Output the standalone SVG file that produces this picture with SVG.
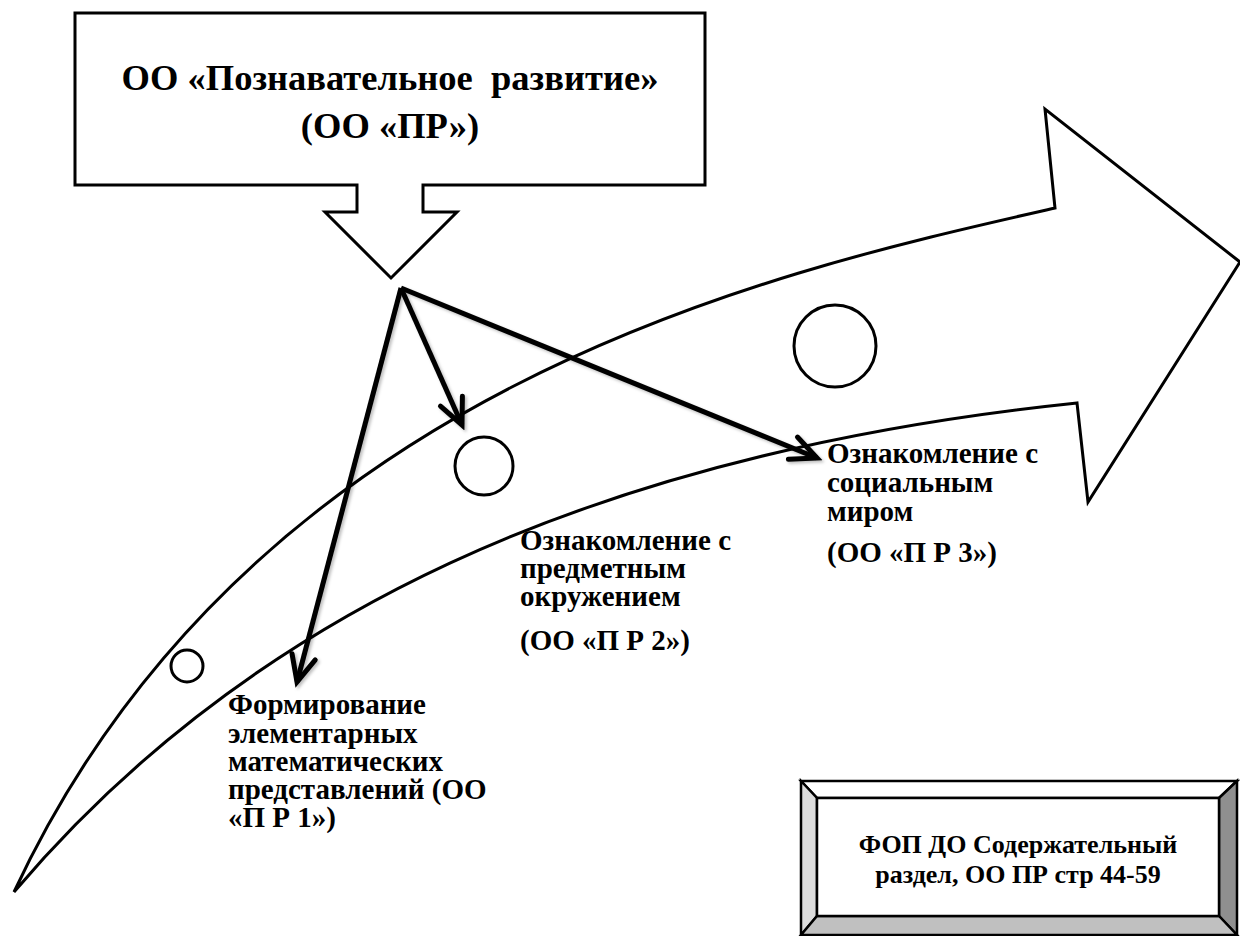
<svg xmlns="http://www.w3.org/2000/svg" width="1240" height="936" viewBox="0 0 1240 936">
<style>
  .outline { fill: #ffffff; stroke: #000000; stroke-width: 3; stroke-linejoin: miter; }
  .curve { fill: #ffffff; stroke: #000000; stroke-width: 3; stroke-linejoin: miter; }
  .ring { fill: none; stroke: #000000; stroke-width: 3; }
  .conn { fill: none; stroke: #000000; stroke-width: 5; stroke-linecap: butt; }
  text { font-family: 'Liberation Serif', 'Times New Roman', serif; font-weight: 700; fill: #000000; }
  .lbl { font-size: 29px; }
  .head { font-size: 36.5px; }
  .note { font-size: 26px; }
  .bev { stroke: #000000; stroke-width: 2.5; stroke-linejoin: miter; }
</style>
<defs>
  <marker id="ah" markerUnits="userSpaceOnUse" markerWidth="40" markerHeight="40" viewBox="-34 -20 40 40" refX="0" refY="0" orient="auto">
    <path d="M-26,-12 L0,0 L-26,12" fill="none" stroke="#000000" stroke-width="5" stroke-linejoin="miter" stroke-linecap="round"/>
  </marker>
  <filter id="sh" x="-10%" y="-10%" width="120%" height="120%">
    <feDropShadow dx="2" dy="2" stdDeviation="1.5" flood-color="#000000" flood-opacity="0.25"/>
  </filter>
</defs>

<g id="curved-arrow">
  <path class="curve" d="M14,892 C250,386 773,272 1055,208 L1045,109 L1240,262 L1088,502 L1077,403 C588,454 248,616 14,892 Z"/>
  <circle class="ring" cx="187" cy="666" r="16"/>
  <circle class="ring" cx="484" cy="466" r="29"/>
  <circle class="ring" cx="835" cy="346" r="41"/>
</g>

<g id="callout">
  <path class="outline" d="M75,13 H705 V185 H423 V212 H457 L391,278 L325,212 H357 V185 H75 Z"/>
  <text class="head" text-anchor="middle"><tspan x="390" y="90">ОО «Познавательное&#160; развитие»</tspan><tspan x="390" y="138">(ОО «ПР»)</tspan></text>
</g>

<g id="connectors" filter="url(#sh)">
  <line class="conn" x1="401" y1="288" x2="297" y2="682" marker-end="url(#ah)"/>
  <line class="conn" x1="401" y1="288" x2="462" y2="425" marker-end="url(#ah)"/>
  <line class="conn" x1="401" y1="288" x2="817" y2="458" marker-end="url(#ah)"/>
</g>

<g id="node-pr1">
  <text class="lbl"><tspan x="228" y="714">Формирование</tspan><tspan x="228" y="743">элементарных</tspan><tspan x="228" y="771">математических</tspan><tspan x="228" y="799">представлений (ОО</tspan><tspan x="228" y="827">«П Р 1»)</tspan></text>
</g>

<g id="node-pr2">
  <text class="lbl"><tspan x="520" y="550">Ознакомление с</tspan><tspan x="520" y="578">предметным</tspan><tspan x="520" y="606">окружением</tspan><tspan x="520" y="650">(ОО «П Р 2»)</tspan></text>
</g>

<g id="node-pr3">
  <text class="lbl"><tspan x="827" y="463">Ознакомление с</tspan><tspan x="827" y="492">социальным</tspan><tspan x="827" y="521">миром</tspan><tspan x="827" y="562">(ОО «П Р 3»)</tspan></text>
</g>

<g id="source-box">
  <polygon class="bev" fill="#ffffff" points="801,781 1237,781 1219,798 817,798"/>
  <polygon class="bev" fill="#dcdcdc" points="801,781 817,798 817,916 801,935"/>
  <polygon class="bev" fill="#8f8f8f" points="1237,781 1219,798 1219,916 1237,935"/>
  <polygon class="bev" fill="#c0c0c0" points="801,935 817,916 1219,916 1237,935"/>
  <rect class="bev" fill="#ffffff" x="817" y="798" width="402" height="118"/>
  <text class="note" text-anchor="middle"><tspan x="1018" y="853">ФОП ДО Содержательный</tspan><tspan x="1018" y="883">раздел, ОО ПР стр 44-59</tspan></text>
</g>
</svg>
